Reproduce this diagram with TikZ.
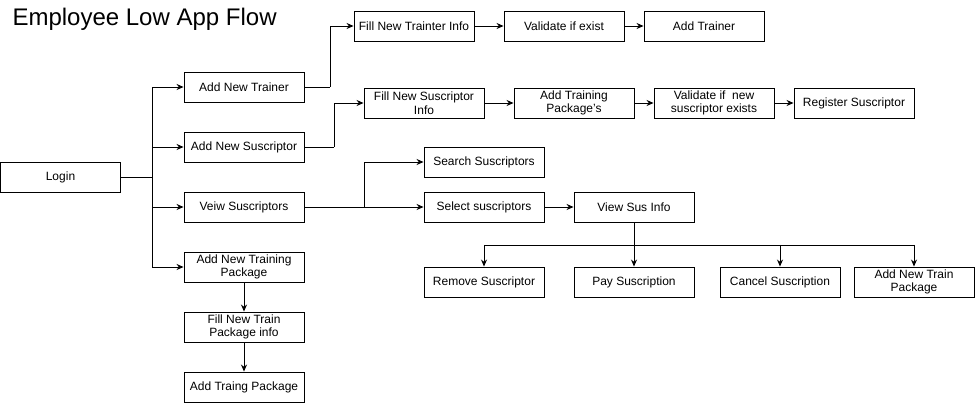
\documentclass[tikz,border=0pt]{standalone}
\usepackage{fontspec}
\setmainfont{Liberation Sans}
\usetikzlibrary{arrows.meta}
\begin{document}
\begin{tikzpicture}[x=1pt,y=-1pt,
  box/.style={draw, line width=0.9pt, minimum width=120pt, minimum height=30pt, inner sep=0pt, align=center, font=\fontsize{12}{13.5}\selectfont},
  wire/.style={line width=0.9pt},
  arr/.style={line width=0.9pt, -{Stealth[length=7pt,width=6pt]}}]
\useasboundingbox (0,0) rectangle (975,403);
\node[anchor=west, font=\fontsize{24}{28}\selectfont] (title) at (9,19) {Employee Low App Flow};
% left column
\node[box] (login) at (60.5,177.5) {Login};
\node[box] (trainer) at (244,87) {Add New Trainer};
\node[box] (addsus) at (244,147) {Add New Suscriptor};
\node[box] (veiw) at (244,207) {Veiw Suscriptors};
\node[box] (addtp) at (244,267) {Add New Training\\Package};
\node[box] (filltp) at (244,327) {Fill New Train\\Package info};
\node[box] (addtraing) at (244,387) {Add Traing Package};
% trainer row
\node[box] (filltr) at (414,26) {Fill New Trainter Info};
\node[box] (valex) at (564,26) {Validate if exist};
\node[box] (addtr) at (704,26) {Add Trainer};
% suscriptor row
\node[box] (fillsus) at (424,103) {Fill New Suscriptor\\Info};
\node[box] (addtpk) at (574,103) {Add Training\\Package's};
\node[box] (valsus) at (714,103) {Validate if~~new\\suscriptor exists};
\node[box] (regsus) at (854,103) {Register Suscriptor};
% view row
\node[box] (search) at (484,162) {Search Suscriptors};
\node[box] (select) at (484,207) {Select suscriptors};
\node[box] (vsi) at (634,207) {View Sus Info};
\node[box] (remove) at (484,282) {Remove Suscriptor};
\node[box] (pay) at (634,282) {Pay Suscription};
\node[box] (cancel) at (780,282) {Cancel Suscription};
\node[box] (antp) at (914,282) {Add New Train\\Package};
% branches
\coordinate (lb) at (152,177.5);
\draw[wire] (login.east) -- (lb);
\draw[arr] (lb) |- (trainer.west);
\draw[arr] (lb) |- (addsus.west);
\draw[arr] (lb) |- (veiw.west);
\draw[arr] (lb) |- (addtp.west);
\draw[arr] (addtp.south) -- (filltp.north);
\draw[arr] (filltp.south) -- (addtraing.north);
% trainer flow
\coordinate (tb) at (330,87);
\draw[wire] (trainer.east) -- (tb);
\draw[arr] (tb) |- (filltr.west);
\draw[arr] (filltr.east) -- (valex.west);
\draw[arr] (valex.east) -- (addtr.west);
% suscriptor flow
\coordinate (sb) at (334,147);
\draw[wire] (addsus.east) -- (sb);
\draw[arr] (sb) |- (fillsus.west);
\draw[arr] (fillsus.east) -- (addtpk.west);
\draw[arr] (addtpk.east) -- (valsus.west);
\draw[arr] (valsus.east) -- (regsus.west);
% view flow
\coordinate (vb) at (364,207);
\draw[wire] (veiw.east) -- (vb);
\draw[arr] (vb) |- (search.west);
\draw[arr] (vb) -- (select.west);
\draw[arr] (select.east) -- (vsi.west);
\coordinate (hb) at (634,245);
\draw[wire] (vsi.south) -- (hb);
\draw[wire] (remove.north |- hb) -- (antp.north |- hb);
\draw[arr] (remove.north |- hb) -- (remove.north);
\draw[arr] (hb) -- (pay.north);
\draw[arr] (cancel.north |- hb) -- (cancel.north);
\draw[arr] (antp.north |- hb) -- (antp.north);
\end{tikzpicture}
\end{document}
